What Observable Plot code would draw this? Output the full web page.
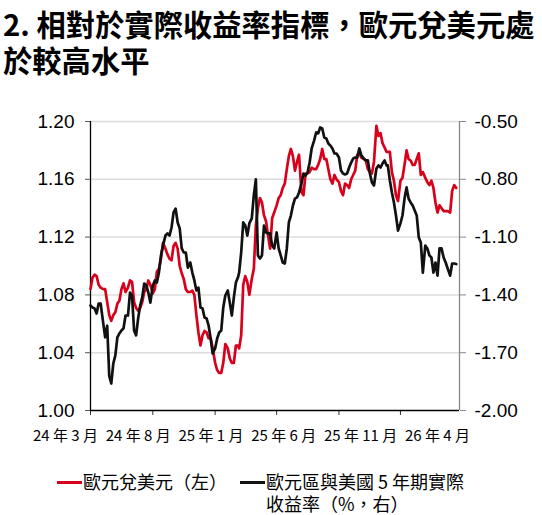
<!DOCTYPE html>
<html>
<head>
<meta charset="utf-8">
<script src="https://cdn.jsdelivr.net/npm/d3@7"></script>
<script src="https://cdn.jsdelivr.net/npm/@observablehq/plot@0.6"></script>
<style>
  html, body { margin: 0; padding: 0; background: #fff; }
  #wrap { position: relative; width: 542px; height: 515px; overflow: hidden; }
  .title { position: absolute; left: 3px; font-family: "Noto Sans CJK TC", "Noto Sans", sans-serif; font-weight: 700; font-size: 29.3px; line-height: 36px; height: 36px; color: #000; white-space: nowrap; }
  #chart { position: absolute; left: 0; top: 80px; }
  #xlabels { position: absolute; left: 33px; top: 426px; width: 437px; display: flex; justify-content: space-between; font-family: "Noto Sans CJK TC", "Noto Sans", sans-serif; font-size: 15px; line-height: 18px; color: #000; white-space: nowrap; }
  .leg { position: absolute; font-family: "Noto Sans CJK TC", "Noto Sans", sans-serif; font-size: 18px; line-height: 21px; color: #000; white-space: nowrap; }
  .sw { position: absolute; height: 3px; width: 25px; }
</style>
</head>
<body>
<div id="wrap">
  <div class="title" id="t1" style="top:5px;"></div>
  <div class="title" id="t2" style="top:41px;"></div>
  <div id="chart"></div>
  <div id="xlabels"></div>
  <div class="sw" style="left:57px; top:481px; background:#d9001b;"></div>
  <div class="leg" id="leg1" style="left:83px; top:471px;"></div>
  <div class="sw" style="left:240px; top:481px; background:#111;"></div>
  <div class="leg" id="leg2a" style="left:266px; top:471px;"></div>
  <div class="leg" id="leg2b" style="left:266px; top:493px;"></div>
</div>
<script>
const titleLines = ["2. 相對於實際收益率指標，歐元兌美元處", "於較高水平"];
const seriesNames = ["歐元兌美元（左）", "歐元區與美國 5 年期實際", "收益率（%，右）"];

const dates = [
  "2024-03-01","2024-03-06","2024-03-11","2024-03-16","2024-03-21","2024-03-26",
  "2024-04-01","2024-04-06","2024-04-11","2024-04-16","2024-04-21","2024-04-26",
  "2024-05-01","2024-05-06","2024-05-11","2024-05-16","2024-05-21","2024-05-26",
  "2024-06-01","2024-06-06","2024-06-11","2024-06-16","2024-06-21","2024-06-26",
  "2024-07-01","2024-07-06","2024-07-11","2024-07-16","2024-07-21","2024-07-26",
  "2024-08-01","2024-08-06","2024-08-11","2024-08-16","2024-08-21","2024-08-26",
  "2024-09-01","2024-09-06","2024-09-11","2024-09-16","2024-09-21","2024-09-26",
  "2024-10-01","2024-10-06","2024-10-11","2024-10-16","2024-10-21","2024-10-26",
  "2024-11-01","2024-11-06","2024-11-11","2024-11-16","2024-11-21","2024-11-26",
  "2024-12-01","2024-12-06","2024-12-11","2024-12-16","2024-12-21","2024-12-26",
  "2025-01-01","2025-01-06","2025-01-11","2025-01-16","2025-01-21","2025-01-26",
  "2025-02-01","2025-02-06","2025-02-11","2025-02-16","2025-02-21","2025-02-26",
  "2025-03-01","2025-03-06","2025-03-11","2025-03-16","2025-03-21","2025-03-26",
  "2025-04-01","2025-04-06","2025-04-11","2025-04-16","2025-04-21","2025-04-26",
  "2025-05-01","2025-05-06","2025-05-11","2025-05-16","2025-05-21","2025-05-26",
  "2025-06-01","2025-06-06","2025-06-11","2025-06-16","2025-06-21","2025-06-26",
  "2025-07-01","2025-07-06","2025-07-11","2025-07-16","2025-07-21","2025-07-26",
  "2025-08-01","2025-08-06","2025-08-11","2025-08-16","2025-08-21","2025-08-26",
  "2025-09-01","2025-09-06","2025-09-11","2025-09-16","2025-09-21","2025-09-26",
  "2025-10-01","2025-10-06","2025-10-11","2025-10-16","2025-10-21","2025-10-26",
  "2025-11-01","2025-11-06","2025-11-11","2025-11-16","2025-11-21","2025-11-26",
  "2025-12-01","2025-12-06","2025-12-11","2025-12-16","2025-12-21","2025-12-26",
  "2026-01-01","2026-01-06","2026-01-11","2026-01-16","2026-01-21","2026-01-26",
  "2026-02-01","2026-02-06","2026-02-11","2026-02-16","2026-02-21","2026-02-26",
  "2026-03-01","2026-03-06","2026-03-11","2026-03-16","2026-03-21","2026-03-26",
  "2026-04-01","2026-04-06","2026-04-11","2026-04-16","2026-04-21","2026-04-26",
  "2026-05-01","2026-05-06","2026-05-11","2026-05-16","2026-05-21","2026-05-26",
  "2026-06-01","2026-06-06","2026-06-11","2026-06-16","2026-06-21","2026-06-26",
  "2026-07-01","2026-07-06","2026-07-11","2026-07-16","2026-07-21","2026-07-26",
  "2026-08-01","2026-08-06","2026-08-11","2026-08-16"
];

const eurusd = [
  1.084,1.092,1.094,1.093,1.087,1.085,
  1.084,1.084,1.075,1.066,1.062,1.066,
  1.068,1.074,1.076,1.084,1.088,1.082,
  1.085,1.090,1.089,1.075,1.071,1.069,
  1.071,1.075,1.082,1.084,1.090,1.087,
  1.081,1.084,1.096,1.098,1.105,1.116,
  1.112,1.108,1.105,1.104,1.114,1.116,
  1.112,1.100,1.095,1.091,1.084,1.082,
  1.082,1.083,1.080,1.066,1.054,1.045,
  1.052,1.055,1.054,1.050,1.050,1.043,
  1.033,1.028,1.026,1.026,1.033,1.046,
  1.043,1.036,1.033,1.033,1.045,1.045,
  1.043,1.052,1.087,1.093,1.089,1.080,
  1.091,1.098,1.128,1.140,1.147,1.144,
  1.135,1.131,1.121,1.112,1.133,1.137,
  1.142,1.147,1.149,1.154,1.157,1.167,
  1.176,1.181,1.176,1.166,1.172,1.177,
  1.151,1.149,1.164,1.164,1.165,1.168,
  1.167,1.167,1.170,1.174,1.181,1.174,
  1.174,1.167,1.160,1.157,1.163,1.160,
  1.158,1.152,1.149,1.157,1.156,1.154,
  1.160,1.163,1.166,1.177,1.178,1.175,
  1.174,1.173,1.167,1.165,1.164,1.172,
  1.197,1.190,1.192,1.185,1.182,1.179,
  1.179,1.179,1.165,1.159,1.149,1.145,
  1.159,1.161,1.170,1.180,1.174,1.173,
  1.170,1.170,1.174,1.178,1.163,1.165,
  1.161,1.158,1.156,1.159,1.154,1.144,
  1.137,1.142,1.140,1.138,1.138,1.138,
  1.137,1.152,1.156,1.154
];

const realYieldSpread = [
  -1.455,-1.465,-1.470,-1.497,-1.445,-1.445,
  -1.543,-1.620,-1.560,-1.820,-1.860,-1.756,
  -1.714,-1.620,-1.600,-1.585,-1.574,-1.507,
  -1.507,-1.388,-1.403,-1.585,-1.610,-1.522,
  -1.455,-1.413,-1.341,-1.351,-1.388,-1.440,
  -1.351,-1.325,-1.336,-1.284,-1.195,-1.144,
  -1.092,-1.081,-1.092,-1.050,-0.972,-0.952,
  -1.024,-1.055,-1.159,-1.180,-1.180,-1.258,
  -1.232,-1.284,-1.325,-1.377,-1.362,-1.465,
  -1.470,-1.517,-1.522,-1.559,-1.626,-1.704,
  -1.678,-1.626,-1.595,-1.585,-1.465,-1.403,
  -1.377,-1.440,-1.507,-1.413,-1.336,-1.310,
  -1.284,-1.180,-1.024,-1.040,-1.092,-1.029,
  -1.003,-0.884,-0.800,-1.195,-1.211,-1.195,
  -1.040,-1.076,-1.081,-1.081,-1.144,-1.159,
  -1.076,-1.159,-1.195,-1.232,-1.237,-1.159,
  -1.024,-0.988,-0.936,-0.900,-0.894,-0.868,
  -0.822,-0.770,-0.780,-0.765,-0.713,-0.640,
  -0.599,-0.557,-0.562,-0.531,-0.536,-0.583,
  -0.588,-0.614,-0.625,-0.640,-0.666,-0.666,
  -0.687,-0.754,-0.770,-0.775,-0.770,-0.739,
  -0.713,-0.692,-0.687,-0.687,-0.640,-0.676,
  -0.692,-0.702,-0.702,-0.770,-0.817,-0.832,
  -0.744,-0.728,-0.739,-0.718,-0.702,-0.728,
  -0.728,-0.806,-0.868,-0.920,-0.988,-1.066,
  -1.029,-0.988,-0.900,-0.842,-0.900,-0.920,
  -0.936,-0.962,-0.988,-1.102,-1.128,-1.284,
  -1.144,-1.159,-1.195,-1.206,-1.284,-1.232,
  -1.300,-1.159,-1.159,-1.206,-1.232,-1.263,
  -1.300,-1.237,-1.237,-1.240
];

const leftTicks = [1.00, 1.04, 1.08, 1.12, 1.16, 1.20];
const rightTicks = [-2.00, -1.70, -1.40, -1.10, -0.80, -0.50];
const xTickDates = ["2024-03-01","2024-08-01","2025-01-01","2025-06-01","2025-11-01","2026-04-01"];
const xTickLabels = ["24 年 3 月","24 年 8 月","25 年 1 月","25 年 6 月","25 年 11 月","26 年 4 月"];
const xDomainDates = ["2024-03-01","2026-08-24"];

const parse = d3.utcParse("%Y-%m-%d");
const leftMin = leftTicks[0], leftMax = leftTicks[leftTicks.length - 1];
const rightMin = rightTicks[0], rightMax = rightTicks[rightTicks.length - 1];
const toLeft = r => leftMin + (r - rightMin) / (rightMax - rightMin) * (leftMax - leftMin);

const redData = dates.map((d, i) => ({date: parse(d), value: eurusd[i]}));
const blackData = dates.map((d, i) => ({date: parse(d), value: toLeft(realYieldSpread[i])}));
const xDomain = xDomainDates.map(parse);

document.getElementById("t1").textContent = titleLines[0];
document.getElementById("t2").textContent = titleLines[1];
document.getElementById("leg1").textContent = seriesNames[0];
document.getElementById("leg2a").textContent = seriesNames[1];
document.getElementById("leg2b").textContent = seriesNames[2];
const xl = document.getElementById("xlabels");
xTickLabels.forEach(t => { const s = document.createElement("span"); s.textContent = t; xl.appendChild(s); });

const chart = Plot.plot({
  width: 542,
  height: 340,
  marginTop: 41,
  marginBottom: 10,
  marginLeft: 90,
  marginRight: 83,
  style: {fontFamily: "'Liberation Sans Narrow', 'Arial Narrow', 'Liberation Sans', sans-serif", fontSize: "19px", color: "#000", background: "transparent"},
  x: {type: "utc", domain: xDomain},
  y: {domain: [leftMin, leftMax]},
  marks: [
    Plot.ruleY(leftTicks.slice(1), {stroke: "#dcdcdc", strokeWidth: 1.5}),
    Plot.ruleX([xDomain[0]], {y1: leftMin, y2: leftMax, stroke: "#000", strokeWidth: 1.3}),
    Plot.ruleX([xDomain[1]], {y1: leftMin, y2: leftMax, stroke: "#888", strokeWidth: 1.3}),
    Plot.axisY(leftTicks, {anchor: "left", tickSize: 5, tickPadding: 11, stroke: "#555", tickFormat: d => d.toFixed(2), label: null}),
    Plot.axisY(rightTicks.map(toLeft), {anchor: "right", tickSize: 6, tickPadding: 9, stroke: "#888", tickFormat: (d, i) => rightTicks[i].toFixed(2), label: null}),
    Plot.axisX(xTickDates.map(parse), {tickSize: 5, stroke: "#333", tickFormat: () => "", label: null}),
    Plot.line(redData, {x: "date", y: "value", stroke: "#d9001b", strokeWidth: 2.7, strokeLinejoin: "round"}),
    Plot.line(blackData, {x: "date", y: "value", stroke: "#111", strokeWidth: 2.7, strokeLinejoin: "round"}),
    Plot.ruleY([leftMin], {stroke: "#000", strokeWidth: 1.5})
  ]
});
document.getElementById("chart").appendChild(chart);
</script>
</body>
</html>
